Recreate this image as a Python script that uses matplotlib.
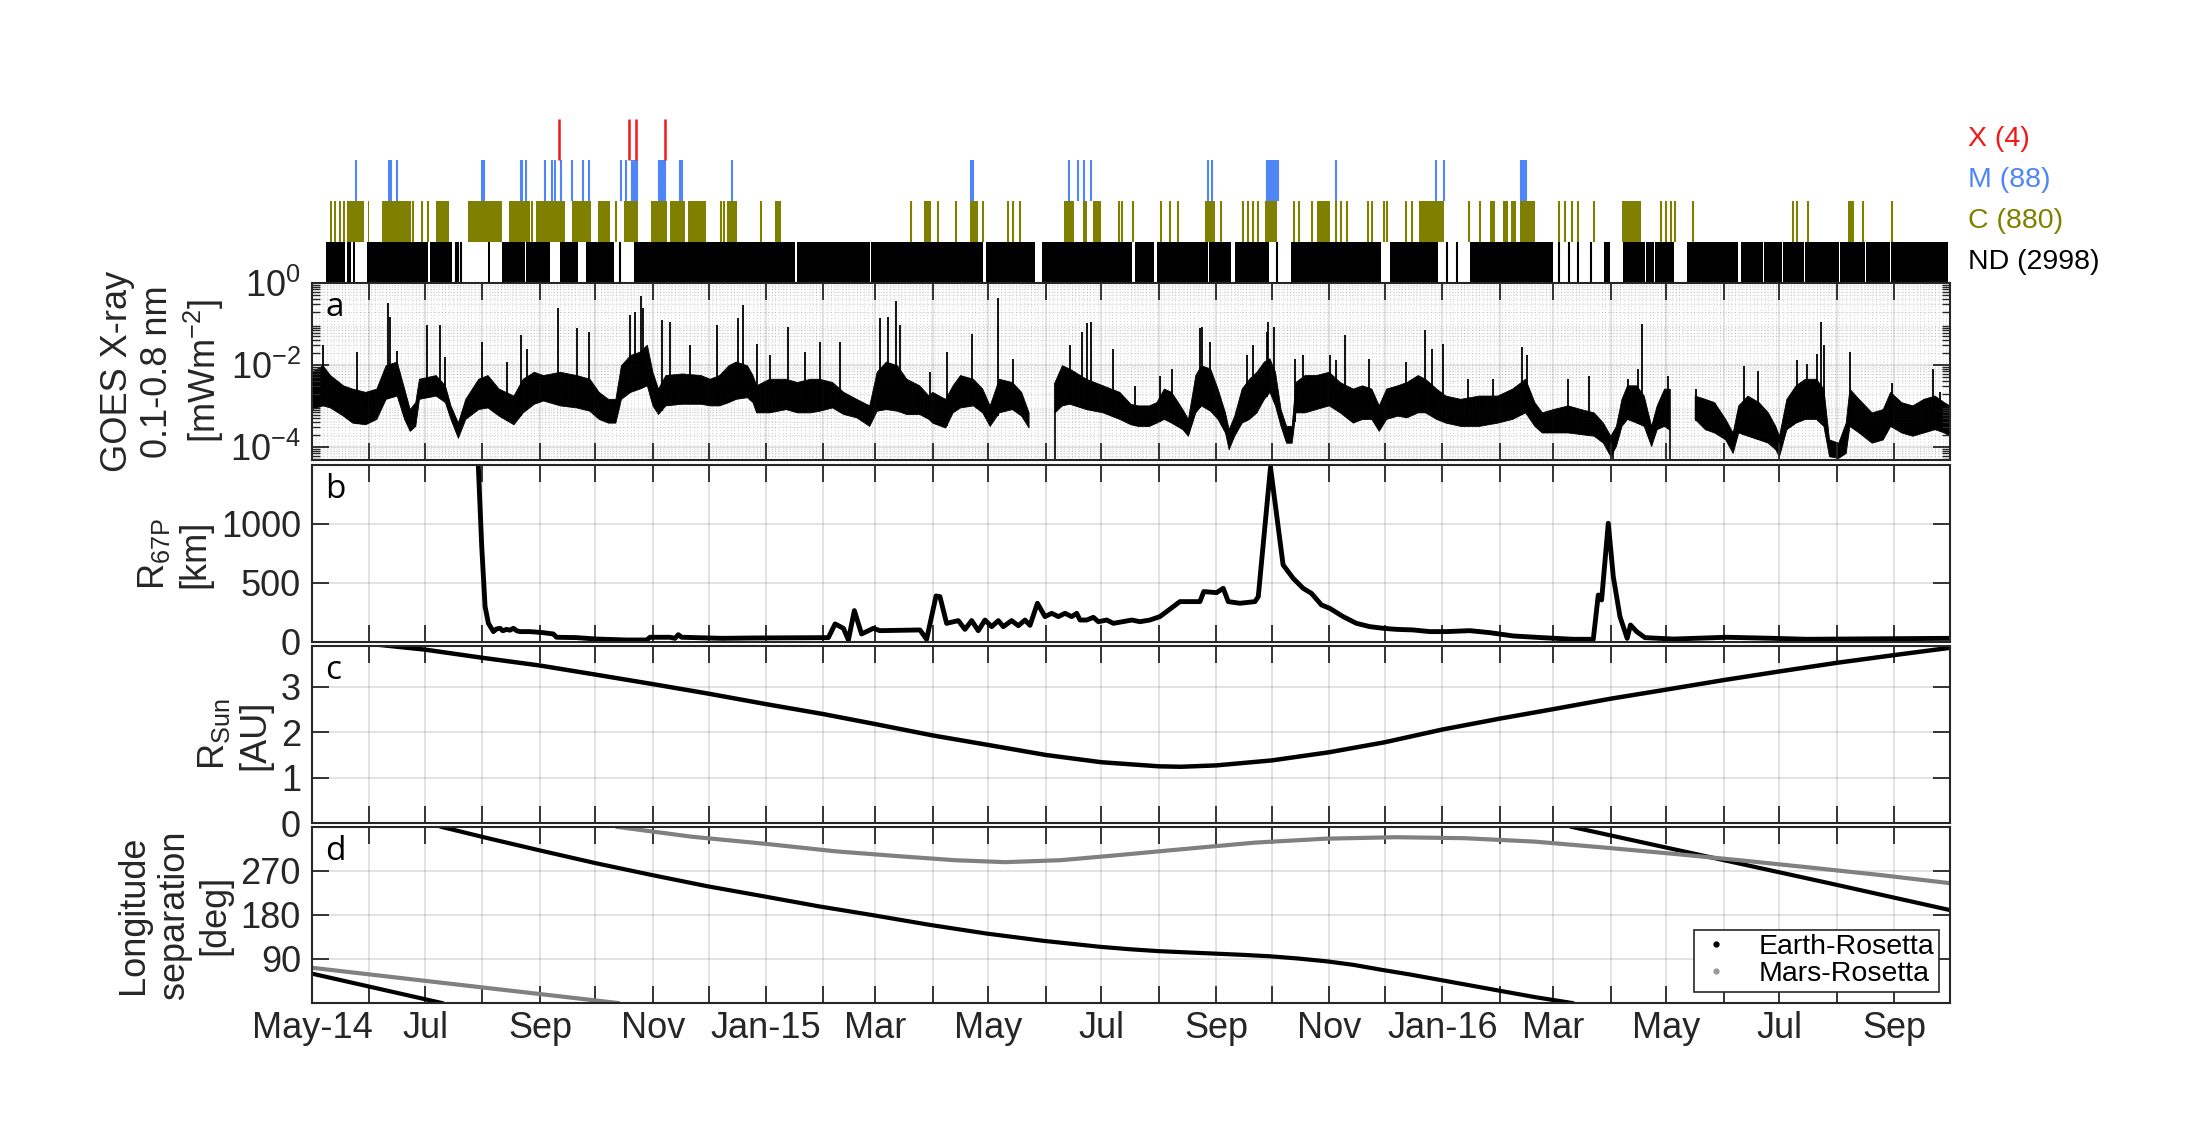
import numpy as np
import matplotlib
matplotlib.use('Agg')
import matplotlib.pyplot as plt
import matplotlib.dates as mdates
from matplotlib.lines import Line2D
from matplotlib import ticker

plt.rcParams['font.family'] = ['Liberation Sans', 'DejaVu Sans']
plt.rcParams['mathtext.fontset'] = 'custom'
plt.rcParams['mathtext.rm'] = 'Liberation Sans'
plt.rcParams['mathtext.it'] = 'Liberation Sans:italic'
plt.rcParams['mathtext.bf'] = 'Liberation Sans:bold'

nan = np.nan
# ---------------- data (days counted from 2014-05-01) ----------------
T0 = '2014-05-01'
T_END_DAY = 884  # 2016-10-01
x_tick_labels = ['May-14', 'Jul', 'Sep', 'Nov', 'Jan-15', 'Mar', 'May', 'Jul',
                 'Sep', 'Nov', 'Jan-16', 'Mar', 'May', 'Jul', 'Sep']

# flare event counts
event_labels = ['X (4)', 'M (88)', 'C (880)', 'ND (2998)']
x_flare_days = [133.1, 171.1, 174.7, 190.6]
m_flare_days = [23.8, 41.7, 42.5, 45.8, 91.8, 92.6, 112.7, 113.5, 115.5, 126,
                129.3, 131.2, 134.2, 140.5, 146.3, 149.6, 167, 169.7, 172.5, 173.2,
                173.9, 174.6, 175.2, 187.1, 187.8, 188.5, 189.1, 189.6, 190.2, 190.7,
                198.6, 199.5, 226.7, 355.6, 357, 408.5, 413.4, 416.7, 420.3, 483.8,
                485.5, 515.4, 516.5, 517.5, 518.5, 519.5, 520.5, 521.6, 552.6, 606.6,
                611.1, 652.4, 653.1, 653.8, 654.5, 655.2]
c_flare_spans = [(9.5, 10.9), (11.7, 13.1), (14.4, 15.5), (16.9, 18.0), (18.9, 28.2),
                 (30.1, 31.0), (37.6, 53.5), (67.0, 73.9), (84.4, 102.3), (106.4, 117.4),
                 (121.0, 136.7), (140.3, 150.4), (154.6, 160.6), (168.3, 175.8), (182.7, 191.7),
                 (193.1, 201.4), (202.8, 212.4), (224.2, 229.5), (250.1, 252.9), (330.2, 334.3),
                 (355.0, 359.7), (405.6, 411.4), (416.1, 418.3), (421.6, 425.2), (482.0, 487.2),
                 (514.1, 520.9), (542.3, 549.2), (597.4, 611.1), (635.9, 638.7), (642.8, 645.5),
                 (647.3, 649.7), (651.7, 660.0), (706.8, 717.1), (829.0, 832.1)]
c_flare_days = [54.6, 59.6, 62.4, 118.8, 164.2, 220.9, 222.3, 242.1, 323.3, 337.6,
                347.3, 362.4, 375.4, 378.4, 382.2, 425.3, 435.6, 437.3, 443.1, 458,
                463.1, 467.2, 490.6, 502.7, 505.1, 507.9, 510.6, 530.2, 532.6, 539.9,
                552.6, 555.4, 558.8, 569.8, 572.2, 578.4, 580.1, 590.5, 593.9, 624.2,
                630.1, 673.1, 676.5, 680.0, 683.4, 692.0, 728.2, 730.6, 733.3, 735.7,
                745.4, 799.4, 801.5, 807.3, 837.3, 852.8]
nd_spans = [(7.8, 17.8), (19.1, 21.1), (21.9, 23.3), (29.9, 62.4), (63.7, 75.3),
            (94.8, 95.9), (102.3, 114.7), (115.5, 128.4), (133.9, 143.6), (147.7, 162.8),
            (173.8, 260.6), (261.9, 301.3), (301.9, 362.4), (363.8, 390), (394.1, 442.5),
            (444.2, 454.5), (456.2, 483.5), (484.1, 495.8), (498.2, 516.5), (528.5, 576.7),
            (581.9, 607.7), (624.9, 642), (642.4, 662.6), (663, 669.6), (697.2, 700.6),
            (707.5, 719.3), (719.8, 724.5), (725, 735), (742, 769.5), (771.2, 783),
            (783.4, 793.3), (793.7, 800.2), (800.6, 805.4), (805.8, 824.3), (824.7, 838.1),
            (838.5, 851.8), (852.2, 883)]
nd_days = [77.5, 78.9, 80.2, 166.4, 521, 612.8, 618, 673.1, 678.2, 683.4, 690.3]

# GOES 0.1-0.8 nm flux: log10 of lower / upper envelope of the dense trace [mW m^-2]
goes_day = [0, 6, 10, 17, 22, 29, 35, 40, 46, 50,
            53, 56, 58, 67, 72, 75, 79, 83, 90, 95,
            101, 109, 114, 120, 125, 134, 143, 150, 155, 160,
            164, 167, 172, 177, 181, 184, 187, 191, 200, 210,
            215,
            220, 225, 229, 235, 238, 240, 247, 256, 262, 269,
            274, 281, 287, 294, 301, 305, 310, 316, 321, 328,
            333, 335, 342, 346, 350, 357, 362, 366, 371, 378,
            383, 387, 394, 401, 405, 409, 418, 427, 436,
            442, 446, 452, 456, 460, 464, 470, 473, 477, 480,
            485, 489, 493, 495, 498, 502, 506, 510, 514, 517,
            520, 523, 526, 529, 531, 536, 542, 549, 555, 562,
            567, 572, 576, 580, 586, 591, 597, 601, 607, 612,
            620, 630, 640, 648, 655, 660,
            664, 670, 678, 685, 692, 697, 701, 704, 707, 710,
            715, 719, 723, 726, 730, 732.5, 740, 746.5, 752, 757,
            763, 767, 770, 775, 781, 786, 790, 792, 796, 801,
            806, 812, 816, 819, 824, 828, 830, 835, 842, 848,
            852, 858, 864, 870, 876, 881, 884]
goes_lo = [-3.09, -3.00, -3.05, -3.25, -3.42, -3.46, -3.33, -2.84, -2.76, -3.33,
           -3.62, -3.50, -2.84, -2.76, -2.92, -3.33, -3.79, -3.33, -3.09, -3.05,
           -3.25, -3.46, -3.17, -2.96, -2.88, -3.00, -3.05, -3.13, -3.33, -3.42,
           -3.42, -2.84, -2.67, -2.59, -2.51, -3.00, -3.21, -3.00, -2.96, -2.96,
           -3.00,
           -3.00, -2.92, -2.84, -2.80, -2.92, -3.17, -3.17, -3.09, -3.17, -3.17,
           -3.13, -3.05, -3.21, -3.29, -3.50, -3.13, -3.09, -3.13, -3.21, -3.21,
           -3.33, -3.42, -3.54, -3.17, -3.05, -3.00, -3.17, -3.50, -3.17, -3.09,
           -3.25, -3.54, nan, -3.17, -3.00, -2.96, -3.09, -3.17, -3.33,
           -3.46, -3.50, -3.50, -3.42, -3.33, -3.42, -3.58, -3.74, -3.17, -3.00,
           -3.13, -3.33, -3.66, -4.07, -3.74, -3.42, -3.33, -3.17, -2.84, -2.67,
           -3.00, -3.50, -3.91, -3.91, -3.17, -3.17, -3.09, -3.00, -3.17, -3.42,
           -3.33, -3.33, -3.62, -3.33, -3.25, -3.29, -3.17, -3.17, -3.33, -3.42,
           -3.50, -3.50, -3.42, -3.33, -3.17, -3.50,
           -3.66, -3.66, -3.66, -3.70, -3.74, -3.91, -4.24, -3.99, -3.50, -3.33,
           -3.42, -3.50, -3.99, -3.58, -3.50, -3.58, nan, -3.33, -3.58, -3.66,
           -3.83, -4.16, -3.66, -3.74, -3.83, -3.91, -4.07, -4.24, -3.58, -3.42,
           -3.33, -3.33, -3.50, -4.24, -4.28, -4.16, -3.50, -3.66, -3.91, -3.83,
           -3.50, -3.66, -3.74, -3.66, -3.58, -3.66, -3.74]
goes_hi = [-2.18, -2.02, -2.26, -2.51, -2.59, -2.67, -2.59, -2.02, -1.93, -2.59,
           -3.09, -2.92, -2.35, -2.26, -2.51, -3.00, -3.42, -2.84, -2.35, -2.26,
           -2.59, -2.76, -2.35, -2.18, -2.26, -2.18, -2.26, -2.35, -2.67, -2.84,
           -2.84, -2.02, -1.77, -1.69, -1.52, -2.18, -2.59, -2.26, -2.22, -2.26,
           -2.35,
           -2.26, -2.02, -1.93, -2.02, -2.26, -2.51, -2.35, -2.35, -2.43, -2.35,
           -2.35, -2.43, -2.67, -2.84, -3.00, -2.18, -1.93, -2.02, -2.35, -2.51,
           -2.76, -2.67, -2.84, -2.51, -2.26, -2.35, -2.59, -3.00, -2.35, -2.43,
           -2.67, -3.17, nan, -2.43, -2.02, -2.10, -2.35, -2.51, -2.67,
           -2.96, -3.00, -3.00, -2.92, -2.59, -2.67, -3.09, -3.33, -2.26, -2.02,
           -2.10, -2.59, -3.17, -3.58, -3.25, -2.59, -2.35, -2.18, -1.93, -1.85,
           -2.18, -3.09, -3.50, -3.50, -2.43, -2.26, -2.26, -2.18, -2.43, -2.59,
           -2.51, -2.59, -3.00, -2.59, -2.51, -2.43, -2.26, -2.35, -2.59, -2.76,
           -2.84, -2.76, -2.76, -2.59, -2.35, -2.92,
           -3.17, -3.09, -3.00, -3.09, -3.17, -3.42, -3.74, -3.50, -2.84, -2.51,
           -2.51, -2.76, -3.50, -3.00, -2.59, -2.59, nan, -2.76, -2.84, -2.92,
           -3.33, -3.66, -3.00, -2.76, -2.92, -3.17, -3.50, -3.74, -2.84, -2.51,
           -2.35, -2.35, -2.59, -3.83, -3.91, -3.42, -2.59, -2.84, -3.17, -3.09,
           -2.67, -2.92, -3.00, -2.84, -2.76, -2.92, -3.00]
# individual flare peaks (log10 flux)
spike_day = [5.8, 24.1, 41.2, 42.1, 45.7, 61.9, 69.1, 71.8, 91.6, 105.1,
             112.6, 115.8, 132.9, 142.8, 149.7, 171.6, 174.3, 177.4, 178.8, 188.7,
             193.2, 204, 218.4, 230.1, 232.8, 240, 247.2, 257.1, 266.1, 274.2,
             285, 306.5, 311.0, 315, 317.3, 333.5, 342.5, 356, 370, 378.1,
             409.1, 415.4, 418.1, 420.4, 432.1, 444.1, 457.6, 463.9, 479.2, 480.1,
             484.6, 504.4, 508, 515.2, 516.1, 519.1, 530.4, 534.9, 549.3, 552.9,
             557.4, 570.4, 590.7, 600.6, 604.2, 610.5, 624, 637.5, 652.8, 655.5,
             678, 689.3, 710.4, 715.8, 717.9, 732, 747.2, 772.8, 780.5, 801.2,
             806.6, 812, 814.3, 816, 830, 852.5, 875, 878.6]
spike_log = [-1.52, -1.69, -0.49, -0.82, -1.65, -1.03, -1.03, -1.81, -1.44, -1.93,
             -1.28, -1.61, -0.62, -1.11, -1.19, -0.78, -0.70, -0.33, -0.62, -0.91,
             -0.95, -1.52, -1.03, -0.86, -0.53, -1.48, -1.77, -1.07, -1.69, -1.44,
             -1.44, -0.86, -0.82, -0.45, -1.03, -2.18, -1.69, -1.24, -0.37, -1.85,
             -1.52, -1.19, -0.97, -0.95, -1.61, -2.51, -2.26, -2.10, -1.11, -1.07,
             -1.44, -1.77, -1.52, -1.19, -0.95, -1.07, -1.85, -1.77, -1.77, -1.89,
             -1.28, -1.85, -1.93, -1.15, -1.61, -1.48, -2.35, -2.35, -1.56, -1.77,
             -2.35, -2.26, -2.35, -2.10, -0.99, -2.26, -2.59, -2.02, -2.14, -1.89,
             -1.98, -1.73, -0.95, -1.52, -1.69, -2.43, -2.10, -2.67]
dropout_day = [401, 702, 733]

# distance Rosetta - 67P [km]
r67_day = [89.2, 91.6, 93.4, 95.2, 97.9, 99.5, 101.5, 103, 105, 106.8,
           108.7, 110.5, 112.3, 117.6, 124.8, 130.2, 132, 142.8, 153.6, 169.8,
           180.6, 182.4, 193.2, 195.9, 197.7, 199.5, 221.3, 238, 278.7, 282.3,
           286.8, 289.5, 292.7, 296.6, 303, 306.5, 328.1, 331.7, 336.8, 338.9,
           342.5, 348.8, 352.4, 356, 359.6, 363.2, 366.8, 370.4, 373.1, 377.6,
           381.2, 384.8, 387.5, 391.5, 395.6, 399.2, 402.8, 406.4, 410, 412.7,
           414.5, 418.1, 421.7, 424.4, 428.9, 432.5, 442.5, 446.8, 452.2, 457.6,
           461.2, 468.4, 479.2, 481.3, 488.2, 491.8, 494.5, 500.8, 508.9, 510.7,
           517.3, 520.5, 524.1, 529.5, 534.9, 539.4, 544.8, 549.3, 556.5, 563.7,
           570.9, 578.1, 585.3, 594.3, 603.3, 612.3, 624.9, 635.7, 648.3, 663.7,
           680.7, 691.5, 694.2, 696, 699.6, 702.3, 705.9, 709.8, 711.6, 714.9,
           719.4, 734.7, 763.4, 788.6, 806.6, 884]
r67_km = [1700, 808, 300, 158, 88, 110, 116, 95, 107, 100,
          116, 95, 88, 88, 79, 68, 40, 37, 25, 17,
          17, 40, 40, 31, 62, 40, 31, 34, 37, 153,
          116, 17, 266, 68, 116, 96, 102, 23, 390, 384,
          158, 181, 107, 181, 96, 186, 130, 181, 130, 181,
          138, 186, 141, 328, 215, 243, 215, 243, 215, 243,
          186, 186, 209, 172, 186, 158, 186, 172, 186, 215,
          257, 342, 342, 427, 418, 455, 342, 328, 342, 384,
          1480, 1090, 653, 540, 455, 412, 314, 285, 215, 158,
          130, 116, 107, 102, 88, 88, 96, 79, 51, 37,
          23, 23, 398, 356, 1006, 554, 215, 31, 144, 88,
          37, 25, 40, 31, 23, 31]

# heliocentric distance [AU]
rsun_day = [0, 61, 92, 123, 153, 184, 214, 245, 276, 304, 335, 365, 396, 426, 457,
            469, 488, 518, 549, 579, 610, 641, 670, 701, 731, 762, 792, 823, 854, 884]
rsun_au = [4.08, 3.82, 3.64, 3.47, 3.27, 3.06, 2.85, 2.62, 2.40, 2.18, 1.93, 1.72, 1.50, 1.34, 1.25,
           1.24, 1.27, 1.38, 1.56, 1.78, 2.06, 2.30, 2.51, 2.74, 2.94, 3.15, 3.34, 3.53, 3.70, 3.86]

# longitude separation [deg]
er_day = [0, 35, 70, 70, 70, 96, 123, 153, 183, 213, 244, 273, 302, 333, 364, 395, 425, 441,
          457, 472, 487, 502, 517, 532, 548, 562, 577, 593, 609, 625, 641, 660, 680,
          680, 680, 750, 820, 884]
er_deg = [60, 30, 0, nan, 360, 336, 312, 286, 262, 239, 218, 198, 180, 160, 142, 127, 115, 110,
          106, 103.5, 101, 98.5, 95.5, 91, 85, 78, 68, 58, 47, 36, 25, 12, 0,
          nan, 360, 302, 244, 190]
mr_day = [0, 80, 165, 165, 165, 205, 246, 283, 321, 347, 374, 404, 434, 471, 509, 547, 585,
          622, 660, 697, 735, 773, 811, 848, 884]
mr_deg = [72, 37, 0, nan, 360, 340, 325, 310, 299, 292, 288, 292, 302, 315, 328, 336, 339,
          337, 330, 318, 305, 291, 276, 261, 245]
legend_labels = ['Earth-Rosetta', 'Mars-Rosetta']

# ---------------- helpers ----------------
T0_NUM = mdates.date2num(np.datetime64(T0))


def dnum(days):
    return T0_NUM + np.asarray(days, dtype=float)


DARK = (0.15, 0.15, 0.15)
month_starts = np.arange(np.datetime64('2014-05'), np.datetime64('2016-10'),
                         np.timedelta64(1, 'M')).astype('datetime64[D]')
month_nums = mdates.date2num(month_starts)
month_labels = [x_tick_labels[i // 2] if i % 2 == 0 else '' for i in range(len(month_nums))]

fig = plt.figure(figsize=(21.88, 11.46), dpi=100)
L, W = 0.1426, 0.7486
ax0 = fig.add_axes([L, 0.7531, W, 0.1431])
axa = fig.add_axes([L, 0.5986, W, 0.1545])
axb = fig.add_axes([L, 0.4398, W, 0.1545])
axc = fig.add_axes([L, 0.2818, W, 0.1545])
axd = fig.add_axes([L, 0.1248, W, 0.1536])


def style(ax, show_labels=False):
    ax.set_xlim(dnum(0), dnum(T_END_DAY))
    ax.xaxis.set_major_locator(ticker.FixedLocator(month_nums))
    ax.xaxis.set_major_formatter(ticker.FixedFormatter(month_labels))
    ax.tick_params(axis='both', which='major', direction='in', length=12, width=1.3,
                   color=DARK, top=True, right=True, labelsize=26, labelcolor=DARK, pad=8)
    ax.tick_params(axis='x', labelbottom=show_labels, pad=6)
    ax.grid(True, which='major', color=DARK, alpha=0.15, lw=1.2)
    for sp in ax.spines.values():
        sp.set_color(DARK)
        sp.set_linewidth(1.5)


# ---------------- event strip ----------------
ax0.set_xlim(dnum(0), dnum(T_END_DAY))
ax0.set_ylim(0, 4)
ax0.axis('off')
ax0.broken_barh([(dnum(s), e - s) for s, e in nd_spans], (0, 1), facecolors='k', lw=0)
ax0.vlines(dnum(nd_days), 0, 1, color='k', lw=1.5)
olive = '#808000'
ax0.broken_barh([(dnum(s), e - s) for s, e in c_flare_spans], (1, 1), facecolors=olive, lw=0)
ax0.vlines(dnum(c_flare_days), 1, 2, color=olive, lw=1.5)
blue = '#4f86f7'
ax0.vlines(dnum(m_flare_days), 2, 3, color=blue, lw=1.5)
ax0.vlines(dnum(x_flare_days), 3, 4, color='#f01818', lw=1.8)
for lab, yc, col in zip(event_labels, [3.5, 2.5, 1.5, 0.5], ['#f01818', blue, olive, 'k']):
    ax0.text(1.011, yc, lab, transform=ax0.get_yaxis_transform(), color=col,
             fontsize=20.5, va='center', ha='left')

# ---------------- panel a ----------------
style(axa)
axa.set_yscale('log')
axa.set_ylim(10 ** -4.32, 1.0)
axa.yaxis.set_major_locator(ticker.FixedLocator([1e-4, 1e-2, 1e0]))
axa.yaxis.set_major_formatter(ticker.LogFormatterMathtext())
axa.yaxis.set_minor_locator(ticker.LogLocator(base=10, subs=np.arange(2, 10), numticks=20))
axa.yaxis.set_minor_formatter(ticker.NullFormatter())
axa.xaxis.set_minor_locator(mdates.DayLocator(interval=2))
axa.tick_params(axis='y', which='minor', direction='in', length=6, width=1.0, color=DARK,
                left=True, right=True)
axa.tick_params(axis='x', which='minor', length=0)
axa.grid(True, which='minor', color=DARK, alpha=0.18, lw=0.8, ls=':')
gd = np.asarray(goes_day, dtype=float)
glo = np.asarray(goes_lo)
ghi = np.asarray(goes_hi)
ok = ~np.isnan(glo)
axa.fill_between(dnum(gd), 10 ** glo, 10 ** ghi, where=ok, color='k', lw=0.6, interpolate=False)
base = np.interp(spike_day, gd[ok], glo[ok])
axa.vlines(dnum(spike_day), 10 ** base, 10 ** np.asarray(spike_log), color='k', lw=1.3)
top_drop = np.interp(dropout_day, gd[ok], ghi[ok])
axa.vlines(dnum(dropout_day), 1e-6, 10 ** top_drop, color='k', lw=1.2)
axa.set_ylabel('GOES X-ray\n0.1-0.8 nm\n[mWm$^{-2}$]', fontsize=26, color=DARK, labelpad=3)

# ---------------- panel b ----------------
style(axb)
axb.plot(dnum(r67_day), r67_km, color='k', lw=3.5)
axb.set_ylim(0, 1500)
axb.set_yticks([0, 500, 1000])
axb.set_ylabel('R$_{\\mathregular{67P}}$\n[km]', fontsize=26, color=DARK, labelpad=6)

# ---------------- panel c ----------------
style(axc)
axc.plot(dnum(rsun_day), rsun_au, color='k', lw=3.2)
axc.set_ylim(0, 3.9)
axc.set_yticks([0, 1, 2, 3])
axc.set_ylabel('R$_{\\mathregular{Sun}}$\n[AU]', fontsize=26, color=DARK, labelpad=6)

# ---------------- panel d ----------------
style(axd, show_labels=True)
axd.plot(dnum(er_day), er_deg, color='k', lw=3.0)
axd.plot(dnum(mr_day), mr_deg, color=(0.5, 0.5, 0.5), lw=3.0)
axd.set_ylim(0, 360)
axd.set_yticks([90, 180, 270])
axd.set_ylabel('Longitude\nseparation\n[deg]', fontsize=26, color=DARK, labelpad=6)
handles = [Line2D([], [], ls='none', marker='.', color='k', markersize=7),
           Line2D([], [], ls='none', marker='.', color=(0.6, 0.6, 0.6), markersize=7)]
leg = axd.legend(handles, legend_labels, loc='lower right', fontsize=20.5, frameon=True,
                 fancybox=False, edgecolor=DARK, framealpha=1, borderaxespad=0.4,
                 handlelength=1.2, handletextpad=0.9, labelspacing=0.05, borderpad=0.15)
leg.get_frame().set_linewidth(1.2)

# panel letters
for ax, letter in zip([axa, axb, axc, axd], 'abcd'):
    ax.text(0.008, 0.86, letter, transform=ax.transAxes, fontsize=24,
            family=['Open Sans', 'DejaVu Sans'], va='center', ha='left', color='k')

fig.savefig('out.png', dpi=100)
